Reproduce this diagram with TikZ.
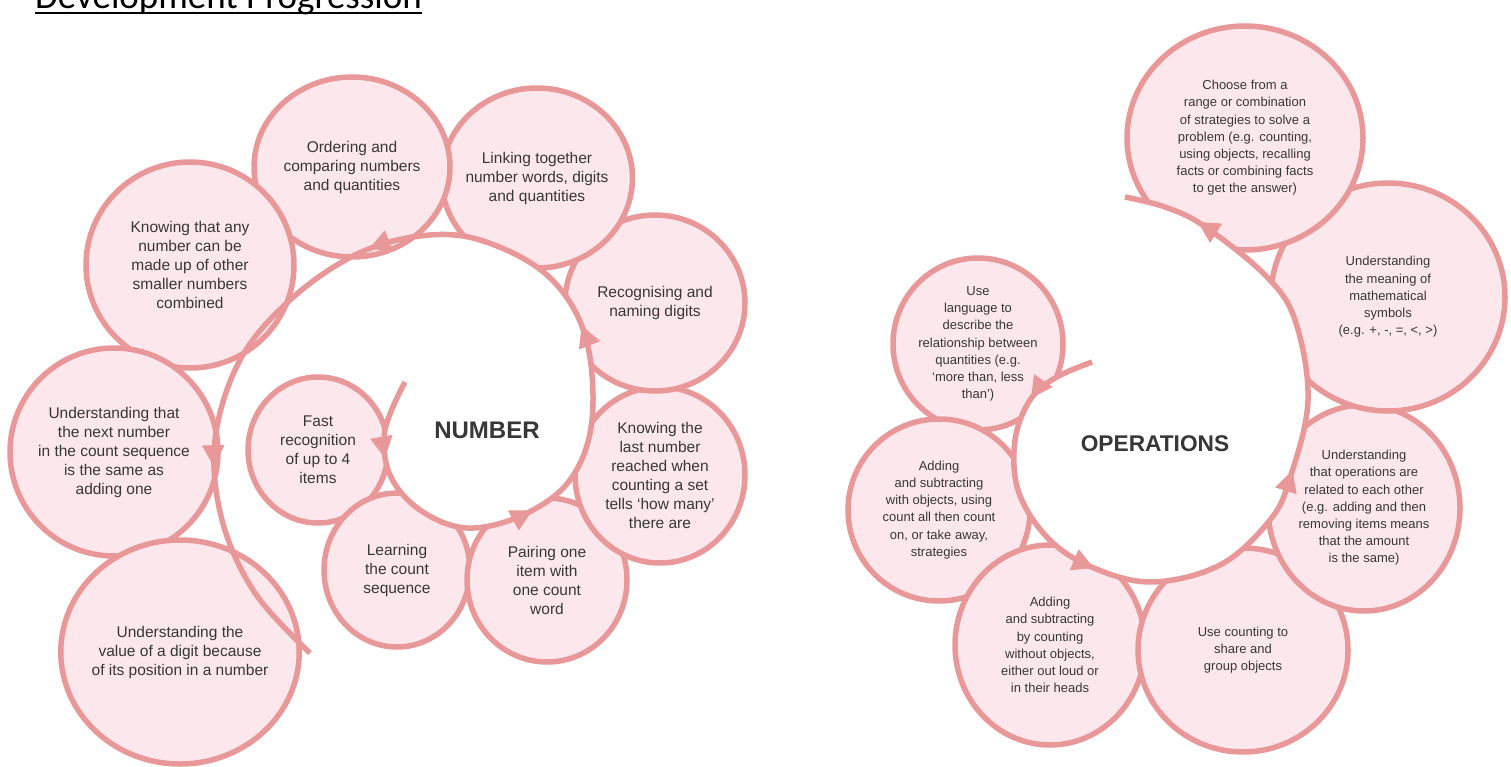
\documentclass[tikz,border=0pt]{standalone}
\usepackage{fontspec}
\setmainfont{Liberation Sans}
\newfontfamily\headfont{Carlito}
\usetikzlibrary{shapes.geometric,decorations.markings,arrows.meta}

\definecolor{petal}{RGB}{233,152,153}
\definecolor{blush}{RGB}{252,232,236}
\definecolor{ink}{RGB}{55,55,55}

\tikzset{
	stage/.style={ellipse, draw=petal, fill=blush, line width=5.5pt, inner sep=-4pt, align=center, text=ink},
	numtext/.style={font=\fontsize{15.5}{19}\selectfont},
	optext/.style={font=\fontsize{13}{17.2}\selectfont},
	hub/.style={font=\bfseries\fontsize{24}{24}\selectfont, text=ink},
	whorl/.style={draw=petal, line width=5.5pt},
	petaltip/.tip={Triangle[length=22pt, width=21pt]},
	heading/.style={anchor=base west, inner sep=0pt, font=\headfont\fontsize{37}{40}\selectfont}
}

\begin{document}
\begin{tikzpicture}[x=1pt, y=-1pt]
	\useasboundingbox (0,0) rectangle (1511,767);

	\draw (35,9) node [heading] (title) {Development Progression};
	\draw [line width=2.5pt] ([yshift=-4pt]title.base west) -- ([yshift=-4pt]title.base east);

	% number spiral
	\draw (318,450) node [stage, numtext, minimum width=140pt, minimum height=146pt] (fast) {Fast\\recognition\\of up to 4\\items};
	\draw (397,570) node [stage, numtext, minimum width=146pt, minimum height=154pt] (learn) {Learning\\the count\\sequence};
	\draw (547,580) node [stage, numtext, minimum width=160pt, minimum height=164pt] (pair) {Pairing one\\item with\\one count\\word};
	\draw (660,475) node [stage, numtext, minimum width=170pt, minimum height=176pt] (last) {Knowing the\\last number\\reached when\\counting a set\\tells ‘how many’\\there are};
	\draw (655,303) node [stage, numtext, minimum width=180pt, minimum height=176pt] (digits) {Recognising and\\naming digits};
	\draw (537,178) node [stage, numtext, minimum width=186pt, minimum height=180pt] (link) {Linking together\\number words, digits\\and quantities};
	\draw (352,167) node [stage, numtext, minimum width=196pt, minimum height=180pt] (order) {Ordering and\\comparing numbers\\and quantities};
	\draw (190,265) node [stage, numtext, minimum width=208pt, minimum height=206pt] (parts) {Knowing that any\\number can be\\made up of other\\smaller numbers\\combined};
	\draw (114,452) node [stage, numtext, minimum width=208pt, minimum height=208pt] (next) {Understanding that\\the next number\\in the count sequence\\is the same as\\adding one};
	\draw (180,652) node [stage, numtext, minimum width=236pt, minimum height=224pt] (place) {Understanding the\\value of a digit because\\of its position in a number};

	\fill [white] plot [smooth, tension=0.6] coordinates {(405,382) (385,430) (390,475) (420,510) (467,528) (523,515) (570,480) (592,420) (585,335) (547,275) (480,240) (420,236)} -- cycle;
	\draw [whorl, postaction={decorate, decoration={markings,
			mark=at position 0.066 with {\arrow[color=petal]{petaltip}},
			mark=at position 0.216 with {\arrow[color=petal]{petaltip}},
			mark=at position 0.387 with {\arrow[color=petal]{petaltip}},
			mark=at position 0.592 with {\arrow[color=petal]{petaltip}},
			mark=at position 0.824 with {\arrow[color=petal]{petaltip}}}}]
		plot [smooth, tension=0.6] coordinates {(405,382) (385,430) (390,475) (420,510) (467,528) (523,515) (570,480) (592,420) (585,335) (547,275) (480,240) (420,236) (355,255) (290,300) (240,360) (215,440) (222,520) (255,593) (310,653)};
	\draw (487,430) node [hub] (number) {NUMBER};

	% operations spiral
	\draw (978,344) node [stage, optext, minimum width=170pt, minimum height=172pt] (talk) {Use\\language to\\describe the\\relationship between\\quantities (e.g.\\‘more than, less\\than’)};
	\draw (939,510) node [stage, optext, minimum width=182pt, minimum height=182pt] (objects) {Adding\\and subtracting\\with objects, using\\count all then count\\on, or take away,\\strategies};
	\draw (1050,645) node [stage, optext, minimum width=190pt, minimum height=200pt] (mental) {Adding\\and subtracting\\by counting\\without objects,\\either out loud or\\in their heads};
	\draw (1243,650) node [stage, optext, minimum width=210pt, minimum height=204pt] (share) {Use counting to\\share and\\group objects};
	\draw (1364,508) node [stage, optext, minimum width=192pt, minimum height=206pt] (inverse) {Understanding\\that operations are\\related to each other\\(e.g. adding and then\\removing items means\\that the amount\\is the same)};
	\draw (1388,297) node [stage, optext, minimum width=234pt, minimum height=228pt] (symbols) {Understanding\\the meaning of\\mathematical\\symbols\\(e.g. +, -, =, <, >)};
	\draw (1245,138) node [stage, optext, minimum width=236pt, minimum height=224pt] (choose) {Choose from a\\range or combination\\of strategies to solve a\\problem (e.g. counting,\\using objects, recalling\\facts or combining facts\\to get the answer)};

	\fill [white] plot [smooth, tension=0.6] coordinates {(1092,362) (1055,378) (1030,400) (1015,440) (1018,490) (1045,535) (1087,565) (1150,582) (1220,565) (1270,520) (1290,478) (1308,400) (1295,320) (1265,275) (1204,226) (1165,207) (1125,197)} -- cycle;
	\draw [whorl, postaction={decorate, decoration={markings,
			mark=at position 0.08 with {\arrow[color=petal]{petaltip}},
			mark=at position 0.31 with {\arrow[color=petal]{petaltip}},
			mark=at position 0.59 with {\arrow[color=petal]{petaltip}},
			mark=at position 0.915 with {\arrow[color=petal]{petaltip}}}}]
		plot [smooth, tension=0.6] coordinates {(1092,362) (1055,378) (1030,400) (1015,440) (1018,490) (1045,535) (1087,565) (1150,582) (1220,565) (1270,520) (1290,478) (1308,400) (1295,320) (1265,275) (1204,226) (1165,207) (1125,197)};
	\draw (1155,444) node [hub, font=\bfseries\fontsize{22.7}{24}\selectfont] (operations) {OPERATIONS};
\end{tikzpicture}
\end{document}
